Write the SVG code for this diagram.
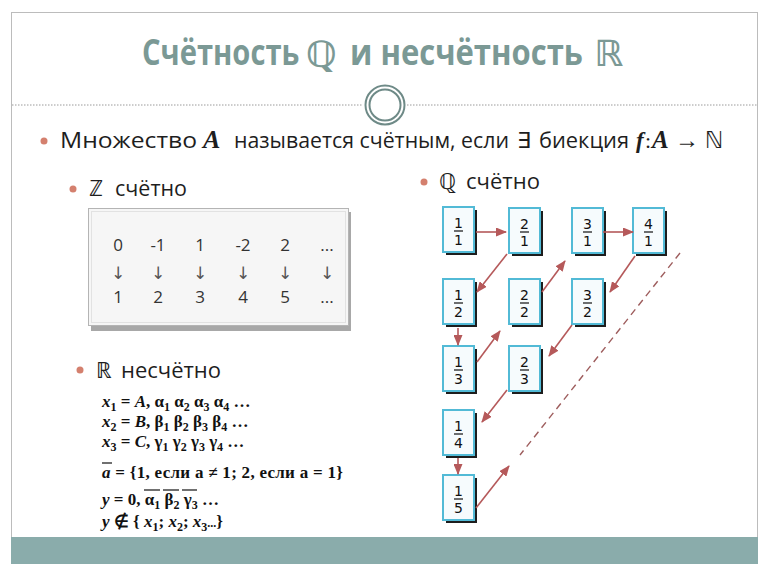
<svg xmlns="http://www.w3.org/2000/svg" width="770" height="576" viewBox="0 0 770 576">
<style>
.title{font-family:"Open Sans","Noto Sans",sans-serif;font-weight:bold;font-size:36px;fill:#7b9995}
.ds{font-family:"DejaVu Sans",sans-serif}
.body{font-family:"Open Sans","Noto Sans",sans-serif;font-size:22px;fill:#1e1e1e}
.mi{font-family:"Liberation Serif",serif;font-style:italic;font-weight:bold}
.zt{font-family:"Open Sans","Noto Sans",sans-serif;font-size:17px;fill:#333;text-anchor:middle}
.za{font-family:"DejaVu Sans",sans-serif;font-weight:normal;font-size:17px;fill:#555;text-anchor:middle}
.m{font-family:"Liberation Serif",serif;font-weight:bold;font-size:17px;fill:#111}
.s{font-size:12px}
.i{font-style:italic}
.frac{font-family:"DejaVu Sans",sans-serif;font-size:14px;fill:#111;text-anchor:middle}
.bul{fill:#d4806e}
.box{fill:#f6fbfd;stroke:#52bad6;stroke-width:2}
.sh{fill:#1d1d1d}
.ol{stroke:#111;stroke-width:1.2}
.arr{stroke:#b5595a;stroke-width:1.6;fill:none;marker-end:url(#ah)}
</style>
<defs>
<marker id="ah" markerUnits="userSpaceOnUse" markerWidth="11" markerHeight="9" refX="10" refY="4.5" orient="auto">
<path d="M0,0 L11,4.5 L0,9 z" fill="#b5595a"/>
</marker>
</defs>
<rect x="0" y="0" width="770" height="576" fill="#ffffff"/>
<rect x="11.5" y="12.5" width="746" height="551" fill="#ffffff" stroke="#bcbcbc" stroke-width="1"/>
<rect x="11" y="537" width="747" height="27" fill="#8aacab"/>

<g id="title">
<text class="title" transform="translate(142,65) scale(0.82,1)" x="0" y="0" textLength="192" lengthAdjust="spacingAndGlyphs">Счётность</text>
<text class="title ds" x="306" y="67" font-weight="normal" font-size="40">ℚ</text>
<text class="title" transform="translate(350,65) scale(0.82,1)" x="0" y="0" textLength="284" lengthAdjust="spacingAndGlyphs">и несчётность</text>
<text class="title ds" x="594" y="66" font-weight="normal" font-size="40">ℝ</text>
</g>

<g id="divider">
<line x1="12" y1="105" x2="363" y2="105" stroke="#9a9a9a" stroke-width="1" stroke-dasharray="1.5,1.5"/>
<line x1="407" y1="105" x2="757" y2="105" stroke="#9a9a9a" stroke-width="1" stroke-dasharray="1.5,1.5"/>
<circle cx="385" cy="105" r="19.5" fill="#fff" stroke="#6e8a87" stroke-width="2"/>
<circle cx="385" cy="105" r="15.5" fill="none" stroke="#6e8a87" stroke-width="2"/>
</g>

<g id="definition">
<circle class="bul" cx="44" cy="141" r="3.5"/>
<text class="body" x="60" y="148" textLength="137" lengthAdjust="spacingAndGlyphs">Множество</text>
<text class="mi" x="203" y="148" font-size="26" fill="#1e1e1e">A</text>
<text class="body" x="234" y="148" textLength="275" lengthAdjust="spacingAndGlyphs">называется счётным, если</text>
<text x="517" y="148" font-family="Liberation Serif,serif" font-size="22" fill="#1e1e1e">∃</text>
<text class="body" x="539" y="148" textLength="90" lengthAdjust="spacingAndGlyphs">биекция</text>
<text class="mi" x="636" y="148" font-size="23" fill="#1e1e1e" font-weight="normal">f</text>
<text x="645" y="148" font-family="Liberation Serif,serif" font-size="22" fill="#1e1e1e">:</text>
<text class="mi" x="652" y="148" font-size="25" fill="#1e1e1e">A</text>
<text x="675" y="148" font-family="Liberation Serif,serif" font-size="24" fill="#1e1e1e">→</text>
<text class="ds" x="705" y="148" font-size="23" fill="#1e1e1e">ℕ</text>
</g>

<g id="z-label">
<circle class="bul" cx="73" cy="189" r="3.5"/>
<text class="body ds" x="89" y="196" font-size="22">ℤ</text>
<text class="body" x="115" y="196" textLength="72" lengthAdjust="spacingAndGlyphs">счётно</text>
</g>

<g id="z-table">
<rect x="91" y="212" width="260" height="119" fill="#a8a8a8"/>
<rect x="88.5" y="208.5" width="260" height="117" fill="#f6f6f6" stroke="#b4b4b4" stroke-width="1"/>
<rect x="91.5" y="211.5" width="254" height="111" fill="none" stroke="#e2e2e2" stroke-width="1"/>
<text class="zt" x="118" y="251">0</text>
<text class="zt" x="158" y="251">-1</text>
<text class="zt" x="200" y="251">1</text>
<text class="zt" x="243" y="251">-2</text>
<text class="zt" x="285" y="251">2</text>
<text class="zt" x="327" y="251">...</text>
<text class="za" x="118" y="279">↓</text>
<text class="za" x="158" y="279">↓</text>
<text class="za" x="200" y="279">↓</text>
<text class="za" x="243" y="279">↓</text>
<text class="za" x="285" y="279">↓</text>
<text class="za" x="327" y="279">↓</text>
<text class="zt" x="118" y="303">1</text>
<text class="zt" x="158" y="303">2</text>
<text class="zt" x="200" y="303">3</text>
<text class="zt" x="243" y="303">4</text>
<text class="zt" x="285" y="303">5</text>
<text class="zt" x="327" y="303">...</text>
</g>

<g id="r-label">
<circle class="bul" cx="80" cy="370" r="3.5"/>
<text class="body ds" x="96" y="378" font-size="22">ℝ</text>
<text class="body" x="121" y="378" textLength="100" lengthAdjust="spacingAndGlyphs">несчётно</text>
</g>

<g id="r-proof">
<text class="m" x="102" y="407"><tspan class="i">x</tspan><tspan class="s" dy="4">1</tspan><tspan dy="-4"> = </tspan><tspan class="i">A</tspan>, α<tspan class="s" dy="4">1</tspan><tspan dy="-4"> α</tspan><tspan class="s" dy="4">2</tspan><tspan dy="-4"> α</tspan><tspan class="s" dy="4">3</tspan><tspan dy="-4"> α</tspan><tspan class="s" dy="4">4</tspan><tspan dy="-4"> …</tspan></text>
<text class="m" x="102" y="427"><tspan class="i">x</tspan><tspan class="s" dy="4">2</tspan><tspan dy="-4"> = </tspan><tspan class="i">B</tspan>, β<tspan class="s" dy="4">1</tspan><tspan dy="-4"> β</tspan><tspan class="s" dy="4">2</tspan><tspan dy="-4"> β</tspan><tspan class="s" dy="4">3</tspan><tspan dy="-4"> β</tspan><tspan class="s" dy="4">4</tspan><tspan dy="-4"> …</tspan></text>
<text class="m" x="102" y="447"><tspan class="i">x</tspan><tspan class="s" dy="4">3</tspan><tspan dy="-4"> = </tspan><tspan class="i">C</tspan>, γ<tspan class="s" dy="4">1</tspan><tspan dy="-4"> γ</tspan><tspan class="s" dy="4">2</tspan><tspan dy="-4"> γ</tspan><tspan class="s" dy="4">3</tspan><tspan dy="-4"> γ</tspan><tspan class="s" dy="4">4</tspan><tspan dy="-4"> …</tspan></text>
<text class="m" x="102" y="478" textLength="241" lengthAdjust="spacing"><tspan class="i">a</tspan> = {1, если a ≠ 1;  2, если a  = 1}</text>
<line class="ol" x1="102" y1="463" x2="112" y2="463"/>
<text class="m" x="102" y="505"><tspan class="i">y</tspan> = 0, α<tspan class="s" dy="4">1</tspan><tspan dy="-4"> β</tspan><tspan class="s" dy="4">2</tspan><tspan dy="-4"> γ</tspan><tspan class="s" dy="4">3</tspan><tspan dy="-4"> …</tspan></text>
<line class="ol" x1="144" y1="490" x2="160" y2="490"/>
<line class="ol" x1="163" y1="490" x2="179" y2="490"/>
<line class="ol" x1="182" y1="490" x2="197" y2="490"/>
<text class="m" x="102" y="527" font-weight="normal"><tspan class="i">y</tspan> ∉ { <tspan class="i">x</tspan><tspan class="s" dy="4">1</tspan><tspan dy="-4">; </tspan><tspan class="i">x</tspan><tspan class="s" dy="4">2</tspan><tspan dy="-4">; </tspan><tspan class="i">x</tspan><tspan class="s" dy="4">3</tspan><tspan dy="-4" font-size="12">...</tspan><tspan>}</tspan></text>
</g>

<g id="q-label">
<circle class="bul" cx="424" cy="182" r="3.5"/>
<text class="body ds" x="439" y="189" font-size="22">ℚ</text>
<text class="body" x="466" y="189" textLength="74" lengthAdjust="spacingAndGlyphs">счётно</text>
</g>

<g id="n11"><rect class="sh" x="446" y="210" width="31" height="45"/><rect class="box" x="443" y="207" width="31" height="45"/><text class="frac" x="458.5" y="228">1</text><line x1="454" y1="231" x2="463" y2="231" stroke="#111" stroke-width="1.2"/><text class="frac" x="458.5" y="245">1</text></g>
<g id="n21"><rect class="sh" x="512" y="211" width="31" height="45"/><rect class="box" x="509" y="208" width="31" height="45"/><text class="frac" x="524.5" y="229">2</text><line x1="520" y1="232" x2="529" y2="232" stroke="#111" stroke-width="1.2"/><text class="frac" x="524.5" y="246">1</text></g>
<g id="n31"><rect class="sh" x="575" y="211" width="31" height="45"/><rect class="box" x="572" y="208" width="31" height="45"/><text class="frac" x="587.5" y="229">3</text><line x1="583" y1="232" x2="592" y2="232" stroke="#111" stroke-width="1.2"/><text class="frac" x="587.5" y="246">1</text></g>
<g id="n41"><rect class="sh" x="636" y="211" width="31" height="45"/><rect class="box" x="633" y="208" width="31" height="45"/><text class="frac" x="648.5" y="229">4</text><line x1="644" y1="232" x2="653" y2="232" stroke="#111" stroke-width="1.2"/><text class="frac" x="648.5" y="246">1</text></g>
<g id="n12"><rect class="sh" x="446" y="282" width="31" height="45"/><rect class="box" x="443" y="279" width="31" height="45"/><text class="frac" x="458.5" y="300">1</text><line x1="454" y1="303" x2="463" y2="303" stroke="#111" stroke-width="1.2"/><text class="frac" x="458.5" y="317">2</text></g>
<g id="n22"><rect class="sh" x="512" y="282" width="31" height="45"/><rect class="box" x="509" y="279" width="31" height="45"/><text class="frac" x="524.5" y="300">2</text><line x1="520" y1="303" x2="529" y2="303" stroke="#111" stroke-width="1.2"/><text class="frac" x="524.5" y="317">2</text></g>
<g id="n32"><rect class="sh" x="575" y="282" width="31" height="45"/><rect class="box" x="572" y="279" width="31" height="45"/><text class="frac" x="587.5" y="300">3</text><line x1="583" y1="303" x2="592" y2="303" stroke="#111" stroke-width="1.2"/><text class="frac" x="587.5" y="317">2</text></g>
<g id="n13"><rect class="sh" x="446" y="349" width="31" height="45"/><rect class="box" x="443" y="346" width="31" height="45"/><text class="frac" x="458.5" y="367">1</text><line x1="454" y1="370" x2="463" y2="370" stroke="#111" stroke-width="1.2"/><text class="frac" x="458.5" y="384">3</text></g>
<g id="n23"><rect class="sh" x="512" y="349" width="31" height="45"/><rect class="box" x="509" y="346" width="31" height="45"/><text class="frac" x="524.5" y="367">2</text><line x1="520" y1="370" x2="529" y2="370" stroke="#111" stroke-width="1.2"/><text class="frac" x="524.5" y="384">3</text></g>
<g id="n14"><rect class="sh" x="446" y="413" width="31" height="45"/><rect class="box" x="443" y="410" width="31" height="45"/><text class="frac" x="458.5" y="431">1</text><line x1="454" y1="434" x2="463" y2="434" stroke="#111" stroke-width="1.2"/><text class="frac" x="458.5" y="448">4</text></g>
<g id="n15"><rect class="sh" x="446" y="478" width="31" height="45"/><rect class="box" x="443" y="475" width="31" height="45"/><text class="frac" x="458.5" y="496">1</text><line x1="454" y1="499" x2="463" y2="499" stroke="#111" stroke-width="1.2"/><text class="frac" x="458.5" y="513">5</text></g>

<g id="connectors">
<line class="arr" x1="476" y1="232" x2="506" y2="232"/>
<line class="arr" x1="603" y1="232" x2="633" y2="232"/>
<line class="arr" x1="507" y1="254" x2="477" y2="292"/>
<line class="arr" x1="458" y1="328" x2="458" y2="345"/>
<line class="arr" x1="477" y1="362" x2="500" y2="331"/>
<line class="arr" x1="542" y1="292" x2="565" y2="261"/>
<line class="arr" x1="635" y1="256" x2="610" y2="292"/>
<line class="arr" x1="572" y1="325" x2="549" y2="356"/>
<line class="arr" x1="507" y1="390" x2="482" y2="422"/>
<line class="arr" x1="458" y1="458" x2="458" y2="474"/>
<line class="arr" x1="476" y1="508" x2="509" y2="466"/>
<line x1="680" y1="253" x2="520" y2="455" stroke="#9e5d5d" stroke-width="1.4" stroke-dasharray="7,5"/>
</g>
</svg>
